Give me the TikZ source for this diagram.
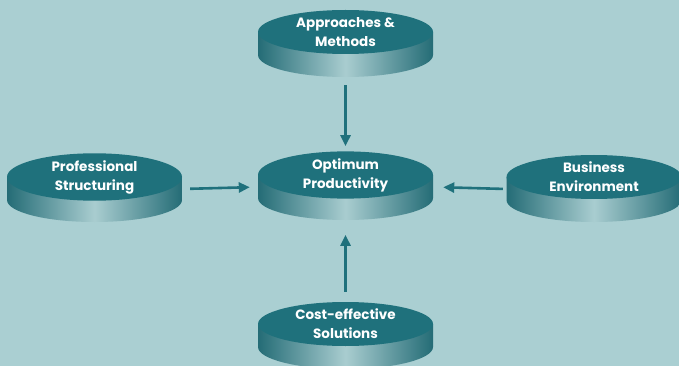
\documentclass[tikz,border=0pt]{standalone}
\usepackage{fontspec}
\setmainfont{Poppins}
\usetikzlibrary{arrows.meta, shapes.geometric}

\definecolor{bgteal}{HTML}{AACFD2}
\definecolor{topteal}{HTML}{1F717C}
\definecolor{rimdark}{HTML}{246C76}
\definecolor{rimlight}{HTML}{A9CDD0}

\tikzset{
  face/.style={ellipse, fill=topteal, text=white, inner sep=0pt,
    minimum width=175pt, minimum height=44pt, align=center,
    font=\fontsize{13.5}{19}\selectfont\bfseries},
  flow/.style={-{Triangle[length=11pt,width=10pt]}, line width=2.6pt, draw=topteal}
}

% name, x, y, text
\newcommand{\platter}[4]{%
  \shade[left color=rimdark, right color=rimdark, middle color=rimlight]
    (#2-87.5,#3) -- ++(0,-23)
    arc[start angle=180, end angle=360, x radius=87.5pt, y radius=22pt]
    -- ++(0,23) -- cycle;
  \node[face] (#1) at (#2,#3) {#4};
}

\begin{document}
\begin{tikzpicture}[x=1pt, y=1pt]
    \fill[bgteal] (0,0) rectangle (679,-366);
    \useasboundingbox (0,0) rectangle (679,-366);

    \platter{appr}{345.5}{-32}{Approaches \&\\Methods}
    \platter{prof}{94.5}{-177}{Professional\\Structuring}
    \platter{optim}{345.5}{-175}{Optimum\\Productivity}
    \platter{biz}{594}{-177}{Business\\Environment}
    \platter{cost}{345.5}{-324}{Cost-effective\\Solutions}

    \draw[flow, shorten <=31pt, shorten >=5pt] (appr.south) -- (optim.north);
    \draw[flow, shorten <=8pt, shorten >=8pt] ([yshift=-12pt]prof.east) -- ([yshift=-12pt]optim.west);
    \draw[flow, shorten <=3.5pt, shorten >=10pt] ([yshift=-12pt]biz.west) -- ([yshift=-12pt]optim.east);
    \draw[flow, shorten <=10pt, shorten >=36pt] (cost.north) -- (optim.south);
  \end{tikzpicture}
\end{document}
